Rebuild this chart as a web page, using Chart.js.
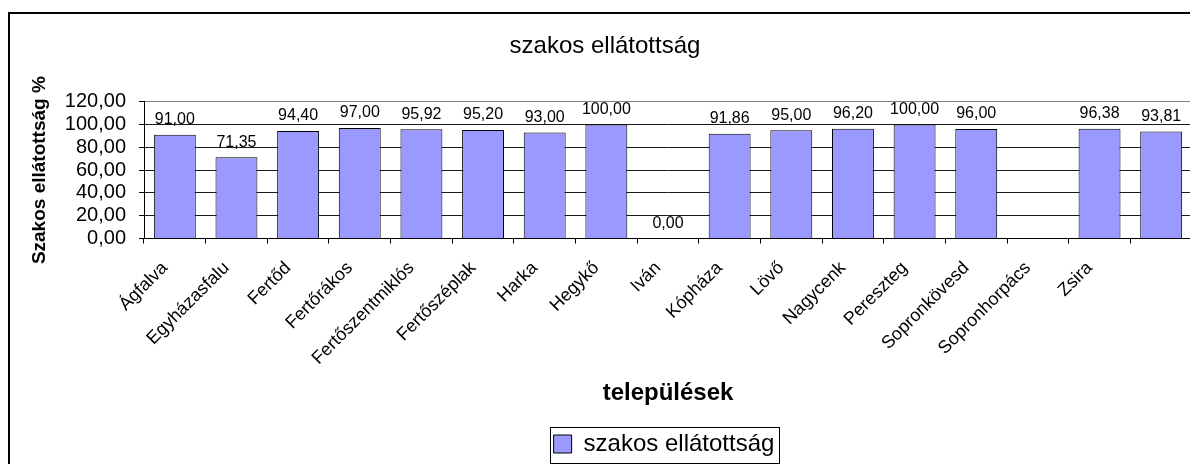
<!DOCTYPE html>
<html>
<head>
<meta charset="utf-8">
<title>szakos ellátottság</title>
<script src="https://cdn.jsdelivr.net/npm/chart.js@4.4.1/dist/chart.umd.min.js"></script>
<style>
    html, body { margin: 0; padding: 0; background: #fff; overflow: hidden; }
    #frame {
        position: absolute;
        left: 8px;
        top: 12px;
        width: 1190px;
        height: 452px;
        border-left: 2px solid #000;
        border-top: 2px solid #000;
    }
</style>
</head>
<body>
<div id="frame">
    <canvas id="chart" width="1190" height="452"></canvas>
</div>
<script>
// Chart data
const categories = ['Ágfalva', 'Egyházasfalu', 'Fertőd', 'Fertőrákos', 'Fertőszentmiklós',
    'Fertőszéplak', 'Harka', 'Hegykő', 'Iván', 'Kópháza', 'Lövő', 'Nagycenk',
    'Pereszteg', 'Sopronkövesd', 'Sopronhorpács', 'Zsira', ''];
const values = [91.00, 71.35, 94.40, 97.00, 95.92, 95.20, 93.00, 100.00, 0.00,
    91.86, 95.00, 96.20, 100.00, 96.00, null, 96.38, 93.81];
const seriesName = 'szakos ellátottság';
const yMin = 0;
const yMax = 120;
const yStep = 20;

const FONT = '"Liberation Sans", Arial, sans-serif';

function formatHu(v) {
    return Number(v).toFixed(2).replace('.', ',');
}

// value labels above the bars
const barLabels = {
    id: 'barLabels',
    afterDatasetsDraw(chart) {
        const ctx = chart.ctx;
        const meta = chart.getDatasetMeta(0);
        ctx.save();
        ctx.font = '16px ' + FONT;
        ctx.fillStyle = '#000';
        ctx.textAlign = 'center';
        ctx.textBaseline = 'middle';
        meta.data.forEach((bar, i) => {
            const v = values[i];
            if (v === null || v === undefined) return;
            ctx.fillText(formatHu(v), bar.x, bar.y - 15);
        });
        ctx.restore();
    }
};

// move the legend a bit to the right and draw a frame round it
const legendShift = 59;
const legendFrame = {
    id: 'legendFrame',
    afterLayout(chart) {
        chart.legend.left += legendShift;
        chart.legend.right += legendShift;
    },
    afterDraw(chart) {
        const lg = chart.legend;
        const pad = lg.options.labels.padding;
        const lineW = lg.lineWidths[0];
        const itemW = lineW - pad;
        const x = (lg.left + pad + lg.right - lineW) / 2;
        const cy = lg.top + pad + 12;
        const ctx = chart.ctx;
        ctx.save();
        ctx.strokeStyle = '#000';
        ctx.lineWidth = 1;
        ctx.strokeRect(Math.round(x - 4) + 0.5, Math.round(cy - 17) + 0.5, Math.round(itemW + 8), 36);
        ctx.restore();
    }
};

const ctx = document.getElementById('chart').getContext('2d');

new Chart(ctx, {
    type: 'bar',
    data: {
        labels: categories,
        datasets: [{
            label: seriesName,
            data: values,
            backgroundColor: '#9999FF',
            borderColor: '#000',
            borderWidth: 1,
            barPercentage: 0.68,
            categoryPercentage: 1.0
        }]
    },
    options: {
        responsive: false,
        animation: false,
        layout: {
            padding: { left: 8, right: 8, top: 0, bottom: 0 }
        },
        plugins: {
            title: {
                display: true,
                text: 'szakos ellátottság',
                color: '#000',
                font: { family: FONT, size: 24, weight: 'normal' },
                padding: { top: 17.6, bottom: 41.3 }
            },
            legend: {
                position: 'bottom',
                labels: {
                    color: '#000',
                    font: { family: FONT, size: 24 },
                    boxWidth: 18,
                    boxHeight: 18,
                    padding: 24
                }
            },
            tooltip: { enabled: false }
        },
        scales: {
            x: {
                afterFit: function(scale) {
                    scale.height = 169.4;
                },
                grid: {
                    offset: true,
                    drawOnChartArea: false,
                    drawTicks: true,
                    tickLength: 5,
                    tickColor: '#000'
                },
                border: { color: '#000', width: 1 },
                ticks: {
                    autoSkip: false,
                    maxRotation: 45,
                    minRotation: 45,
                    color: '#000',
                    padding: 14,
                    labelOffset: -10,
                    font: { family: FONT, size: 18 }
                },
                title: {
                    display: true,
                    text: 'települések',
                    color: '#000',
                    font: { family: FONT, size: 24, weight: 'bold' },
                    padding: { top: 0, bottom: 0 }
                }
            },
            y: {
                min: yMin,
                max: yMax,
                afterFit: function(scale) {
                    scale.width = 126;
                },
                grid: {
                    color: function(c) {
                        return c.tick && c.tick.value === yMax ? '#808080' : '#1a1a1a';
                    },
                    tickColor: '#000',
                    tickLength: 5
                },
                border: { color: '#000', width: 1 },
                ticks: {
                    stepSize: yStep,
                    autoSkip: false,
                    color: '#000',
                    padding: 13,
                    font: { family: FONT, size: 20 },
                    callback: function(value) {
                        return formatHu(value);
                    }
                },
                title: {
                    display: true,
                    text: 'Szakos ellátottság %',
                    color: '#000',
                    font: { family: FONT, size: 19, weight: 'bold' },
                    padding: { top: 10.6, bottom: 0 }
                }
            }
        }
    },
    plugins: [barLabels, legendFrame]
});
</script>
</body>
</html>
